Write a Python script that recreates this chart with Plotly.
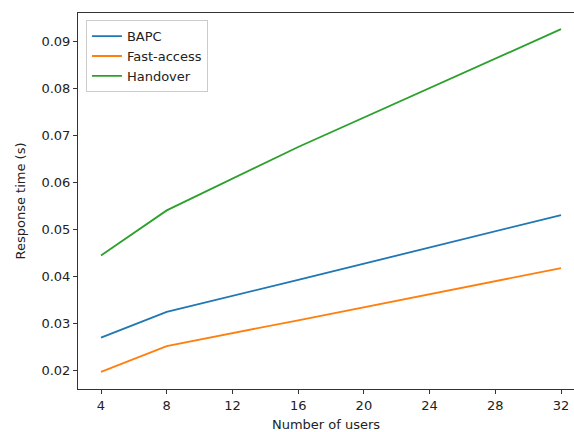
import plotly.graph_objects as go

users = [4, 8, 16, 32]
bapc = [0.0270, 0.0325, 0.0393, 0.0531]
fast_access = [0.0197, 0.0252, 0.0307, 0.0418]
handover = [0.0445, 0.0541, 0.0676, 0.0927]

series = [("BAPC", bapc, "#1f77b4"), ("Fast-access", fast_access, "#ff7f0e"), ("Handover", handover, "#2ca02c")]

x_ticks = [4, 8, 12, 16, 20, 24, 28, 32]
y_ticks = [0.02, 0.03, 0.04, 0.05, 0.06, 0.07, 0.08, 0.09]

fig = go.Figure()
for name, vals, col in series:
    fig.add_trace(go.Scatter(x=users, y=vals, mode="lines", name=name,
                             line=dict(color=col, width=1.8)))

font = dict(family="DejaVu Sans", size=13, color="#222")
fig.update_layout(
    width=574, height=432,
    margin=dict(l=78, r=0, t=13, b=43),
    plot_bgcolor="white", paper_bgcolor="white",
    font=font,
    showlegend=True,
    legend=dict(x=0.016, y=0.981, xanchor="left", yanchor="top",
                bgcolor="rgba(255,255,255,0.8)", bordercolor="#cccccc", borderwidth=1,
                font=font, itemwidth=30, tracegroupgap=0),
    xaxis=dict(range=[2.6, 32.79], tickvals=x_ticks, ticks="outside", ticklen=4,
               tickcolor="#333", showgrid=False, zeroline=False,
               showline=True, linecolor="#333", linewidth=1, mirror=True,
               title=dict(text="Number of users", font=font, standoff=8)),
    yaxis=dict(range=[0.01606, 0.09614], tickvals=y_ticks, tickformat=".2f",
               ticks="outside", ticklen=4, tickcolor="#333", showgrid=False,
               zeroline=False, showline=True, linecolor="#333", linewidth=1,
               title=dict(text="Response time (s)", font=font, standoff=12)),
)

fig.write_html("out.html")
